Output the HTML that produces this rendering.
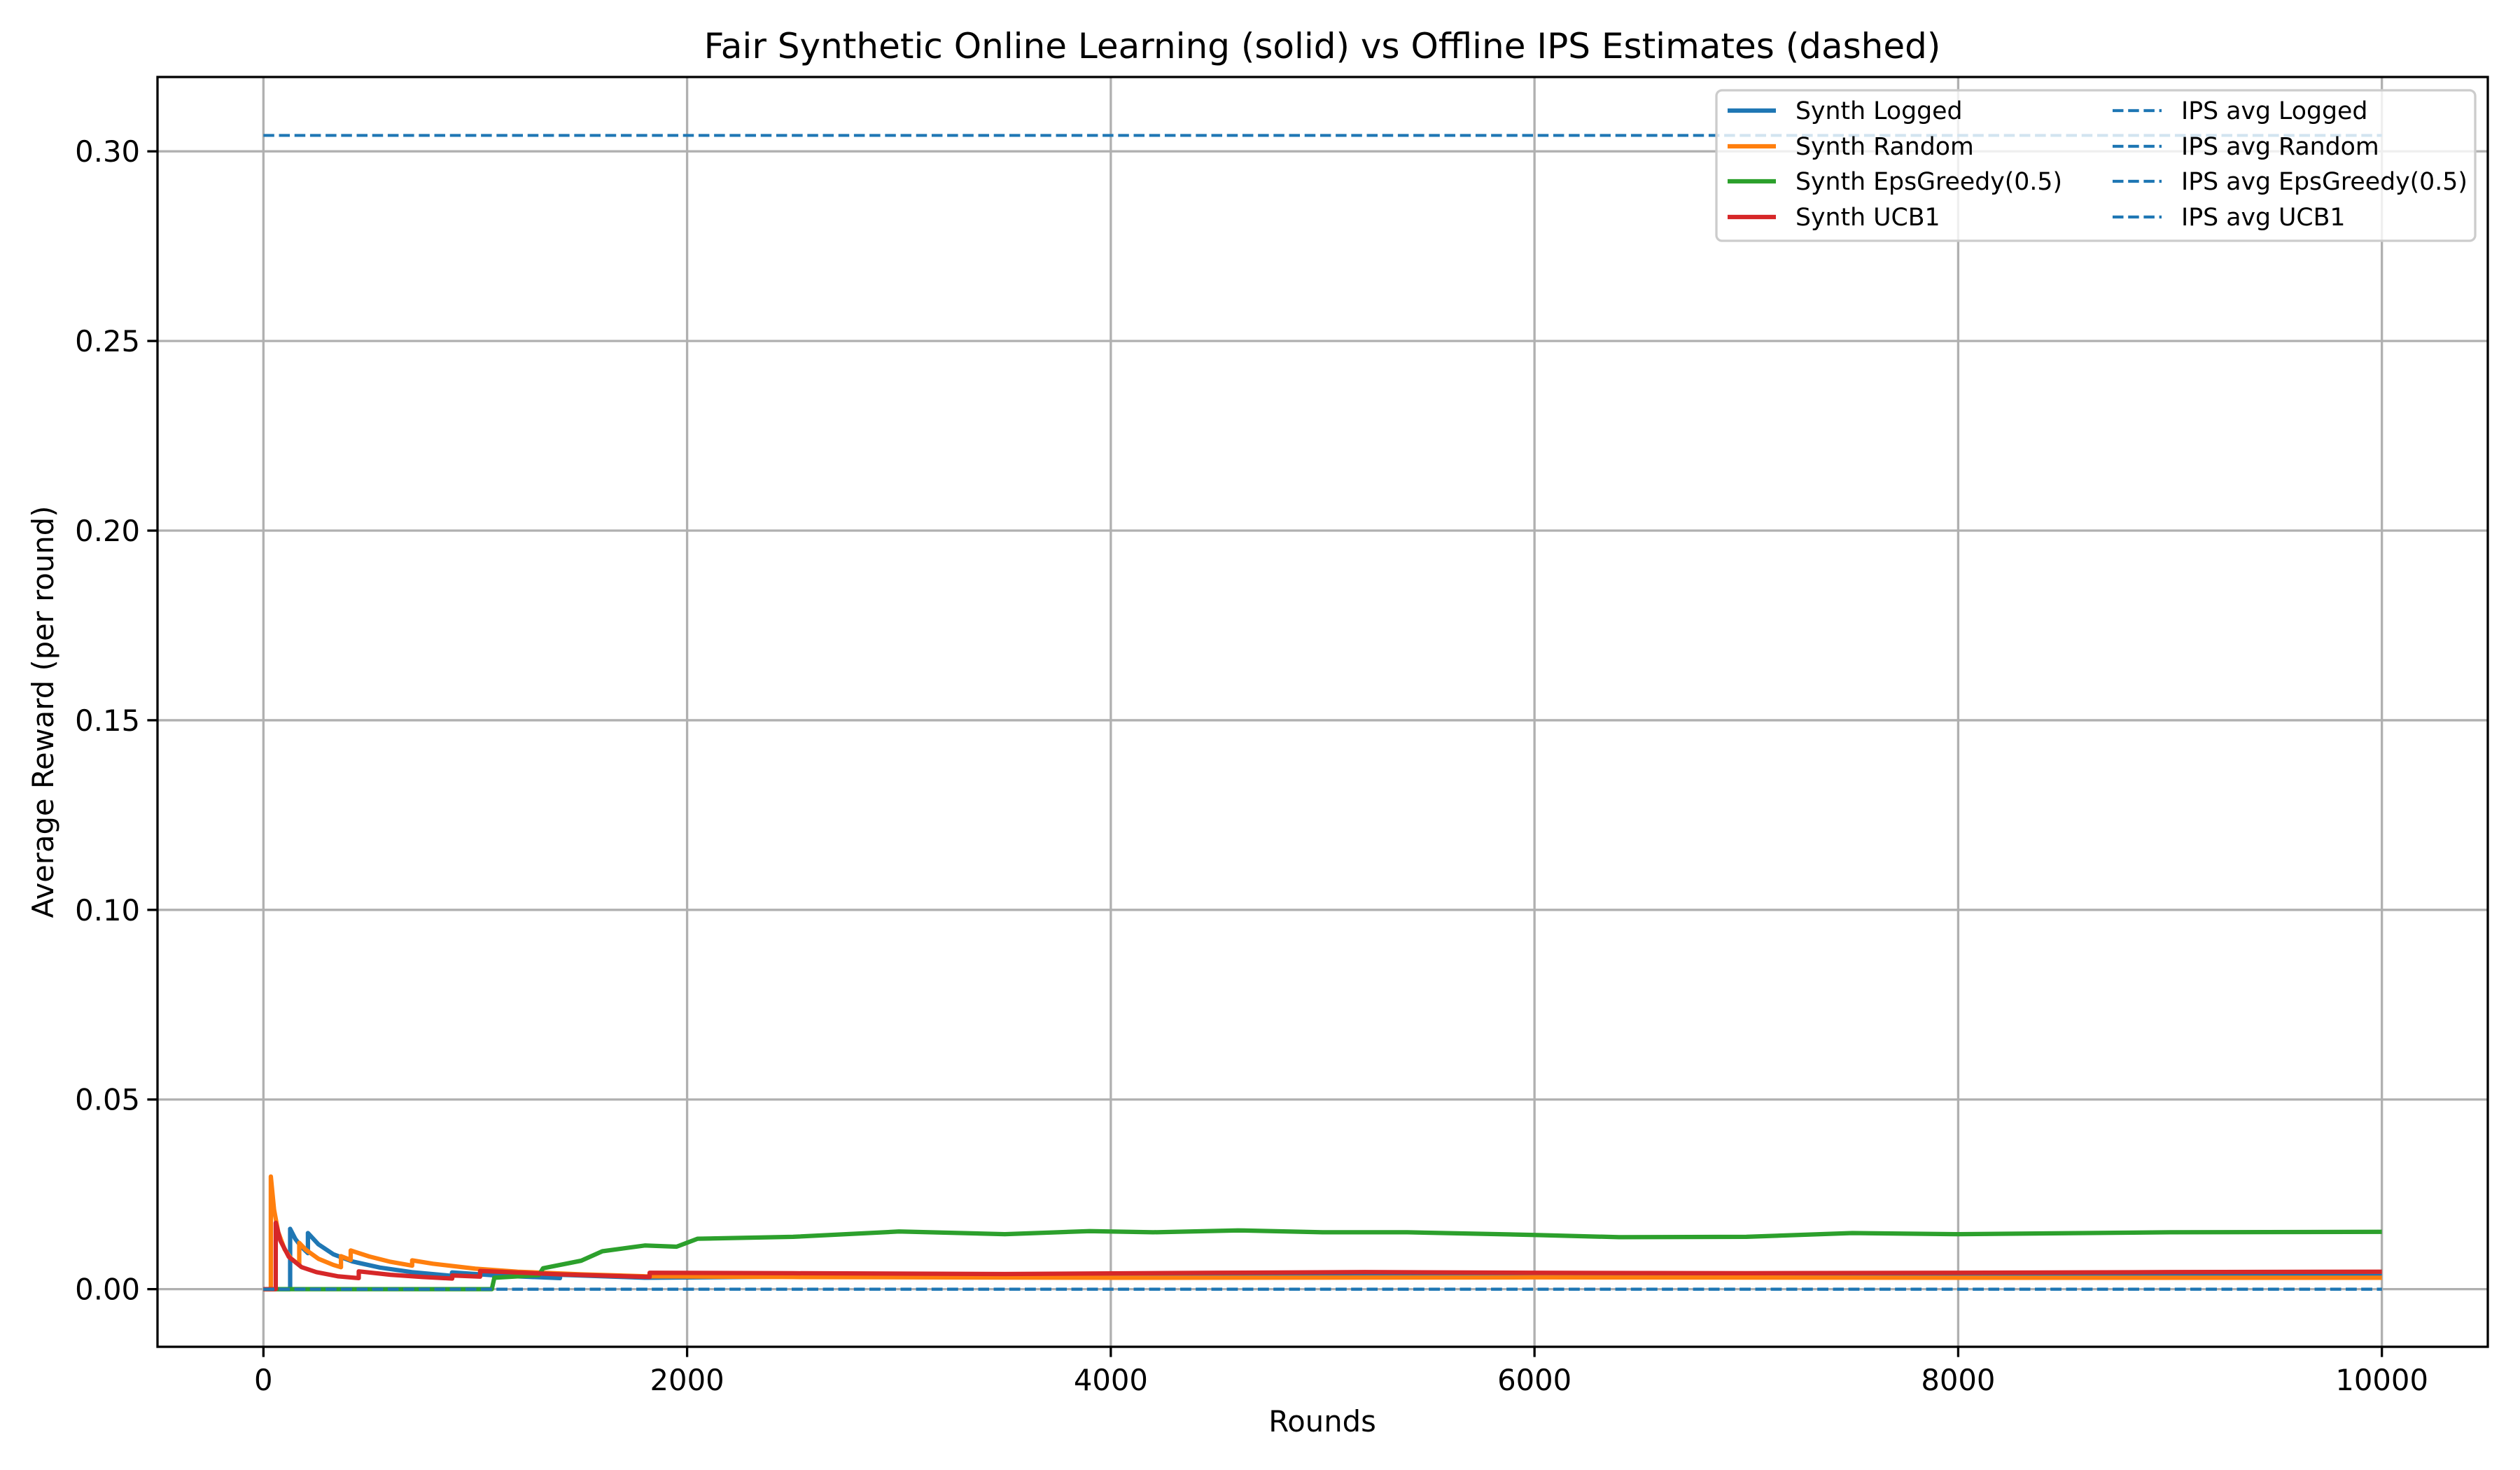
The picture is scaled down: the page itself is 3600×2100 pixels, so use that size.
<!DOCTYPE html>
<html><head><meta charset="utf-8"><style>
html,body{margin:0;padding:0;background:#fff}
svg{display:block;font-family:"DejaVu Sans","Liberation Sans",sans-serif}
</style></head><body>
<svg id="chart" width="3600" height="2100" viewBox="0 0 3600 2100" xmlns="http://www.w3.org/2000/svg">
<rect width="3600" height="2100" fill="#fff"/>
<text x="1889" y="83" font-size="50" text-anchor="middle">Fair Synthetic Online Learning (solid) vs Offline IPS Estimates (dashed)</text>
<g id="grid"></g>
<g id="series"></g>
<rect x="225" y="110" width="3329" height="1814" fill="none" stroke="#000" stroke-width="3.3"/>
<g id="ticks"></g>
<text x="1889" y="2045" font-size="41.7" text-anchor="middle">Rounds</text>
<text transform="translate(76,1017) rotate(-90)" font-size="41.7" text-anchor="middle">Average Reward (per round)</text>
<g id="legend">
<rect x="2452" y="129" width="1084" height="215" rx="8" fill="#fff" fill-opacity="0.8" stroke="#ccc" stroke-width="3.3"/>
<g><line x1="2468" y1="158" x2="2537" y2="158" stroke="#1f77b4" stroke-width="6.25"/><text x="2565" y="170" font-size="34.7">Synth Logged</text></g>
<g><line x1="2468" y1="209" x2="2537" y2="209" stroke="#ff7f0e" stroke-width="6.25"/><text x="2565" y="221" font-size="34.7">Synth Random</text></g>
<g><line x1="2468" y1="259" x2="2537" y2="259" stroke="#2ca02c" stroke-width="6.25"/><text x="2565" y="271" font-size="34.7">Synth EpsGreedy(0.5)</text></g>
<g><line x1="2468" y1="310" x2="2537" y2="310" stroke="#d62728" stroke-width="6.25"/><text x="2565" y="322" font-size="34.7">Synth UCB1</text></g>
<g><line x1="3018" y1="158" x2="3088" y2="158" stroke="#1f77b4" stroke-width="4.2" stroke-dasharray="15.5,6.7"/><text x="3116" y="170" font-size="34.7">IPS avg Logged</text></g>
<g><line x1="3018" y1="209" x2="3088" y2="209" stroke="#1f77b4" stroke-width="4.2" stroke-dasharray="15.5,6.7"/><text x="3116" y="221" font-size="34.7">IPS avg Random</text></g>
<g><line x1="3018" y1="259" x2="3088" y2="259" stroke="#1f77b4" stroke-width="4.2" stroke-dasharray="15.5,6.7"/><text x="3116" y="271" font-size="34.7">IPS avg EpsGreedy(0.5)</text></g>
<g><line x1="3018" y1="310" x2="3088" y2="310" stroke="#1f77b4" stroke-width="4.2" stroke-dasharray="15.5,6.7"/><text x="3116" y="322" font-size="34.7">IPS avg UCB1</text></g>
</g>
</svg>
<script>
const xTicks = [0, 2000, 4000, 6000, 8000, 10000];
const yTicks = [0, 0.05, 0.10, 0.15, 0.20, 0.25, 0.30];
const yTickLabels = ["0.00","0.05","0.10","0.15","0.20","0.25","0.30"];
const ipsValues = [0.3042, 0, 0, 0];
const synthLogged = [[0,0],[126,0],[126,0.0159],[150,0.0133],[180,0.0111],[210,0.0095],[210,0.0148],[260,0.0118],[330,0.0092],[420,0.0073],[550,0.0057],[700,0.0045],[890,0.0035],[890,0.0044],[1100,0.0036],[1400,0.0029],[1400,0.0038],[1700,0.0032],[1800,0.0030],[2500,0.0033],[4000,0.0034],[6000,0.0035],[8000,0.0034],[10000,0.0035]];
const synthRandom = [[0,0],[35,0],[35,0.0297],[50,0.021],[70,0.015],[100,0.0105],[130,0.0081],[169,0.0064],[169,0.0122],[200,0.0104],[260,0.008],[330,0.0064],[366,0.0058],[366,0.0087],[412,0.0077],[412,0.0102],[500,0.0086],[600,0.0072],[702,0.0062],[702,0.0076],[800,0.0067],[1000,0.0054],[1200,0.0046],[1500,0.0039],[1800,0.0034],[2500,0.0032],[4000,0.0030],[6000,0.0031],[8000,0.0030],[10000,0.0030]];
const synthEps = [[0,0],[1078,0],[1090,0.003],[1300,0.0037],[1320,0.0055],[1500,0.0075],[1600,0.01],[1800,0.0115],[1950,0.0112],[2050,0.0133],[2500,0.0138],[3000,0.0152],[3500,0.0145],[3900,0.0153],[4200,0.015],[4600,0.0155],[5000,0.015],[5400,0.015],[6000,0.0143],[6400,0.0137],[7000,0.0138],[7500,0.0148],[8000,0.0145],[9000,0.015],[10000,0.0151]];
const synthUCB = [[0,0],[58,0],[58,0.0175],[80,0.0128],[120,0.0085],[180,0.0058],[250,0.0045],[350,0.0034],[450,0.0029],[450,0.0047],[600,0.0038],[750,0.0032],[891,0.0028],[891,0.0036],[1023,0.0033],[1023,0.0048],[1400,0.0039],[1823,0.0032],[1823,0.0043],[2500,0.0042],[3500,0.0040],[4500,0.0043],[5200,0.0045],[6000,0.0043],[7000,0.0042],[8000,0.0043],[9000,0.0045],[10000,0.0046]];
const xMin=-500,xMax=10500,yMin=-0.0152,yMax=0.3196;
const L=225,R=3554,T=110,B=1924;
function sx(v){return L+(v-xMin)/(xMax-xMin)*(R-L);}
function sy(v){return B-(v-yMin)/(yMax-yMin)*(B-T);}
const NS="http://www.w3.org/2000/svg";
function mk(tag,attrs,parent){const e=document.createElementNS(NS,tag);for(const k in attrs)e.setAttribute(k,attrs[k]);parent.appendChild(e);return e;}
const grid=document.getElementById('grid'),ticks=document.getElementById('ticks'),series=document.getElementById('series');
xTicks.forEach(v=>{
  const g=mk('line',{x1:sx(v),x2:sx(v),y1:T,y2:B,stroke:'#b0b0b0','stroke-width':3.3},grid);
  
  
  const t=mk('line',{x1:sx(v),x2:sx(v),y1:B,y2:B+14.6,stroke:'#000','stroke-width':3.3},ticks);
  
  
  const l=mk('text',{x:sx(v),y:B+62,'font-size':41.7,'text-anchor':'middle'},ticks);
  l.textContent=String(v);
  
  
});
yTicks.forEach((v,i)=>{
  const g=mk('line',{x1:L,x2:R,y1:sy(v),y2:sy(v),stroke:'#b0b0b0','stroke-width':3.3},grid);
  
  
  const t=mk('line',{x1:L-14.6,x2:L,y1:sy(v),y2:sy(v),stroke:'#000','stroke-width':3.3},ticks);
  
  
  const l=mk('text',{x:L-25,y:sy(v)+15,'font-size':41.7,'text-anchor':'end'},ticks);
  l.textContent=yTickLabels[i];
  
  
});
function path(pts){return pts.map((p,i)=>(i?'L':'M')+sx(p[0]).toFixed(1)+','+sy(p[1]).toFixed(1)).join(' ');}
[[synthLogged,'#1f77b4','synth-logged-line'],[synthRandom,'#ff7f0e','synth-random-line'],[synthEps,'#2ca02c','synth-epsgreedy-line'],[synthUCB,'#d62728','synth-ucb1-line']].forEach(s=>{
  const p=mk('path',{d:path(s[0]),fill:'none',stroke:s[1],'stroke-width':6.25,'stroke-linejoin':'round'},series);
  
  
});
const ipsNames=['ips-logged-line','ips-random-line','ips-epsgreedy-line','ips-ucb1-line'];
ipsValues.forEach((v,i)=>{
  const p=mk('line',{x1:sx(0),x2:sx(10000),y1:sy(v),y2:sy(v),stroke:'#1f77b4','stroke-width':4.2,'stroke-dasharray':'15.5,6.7'},series);
  
  
});
</script>
</body></html>
